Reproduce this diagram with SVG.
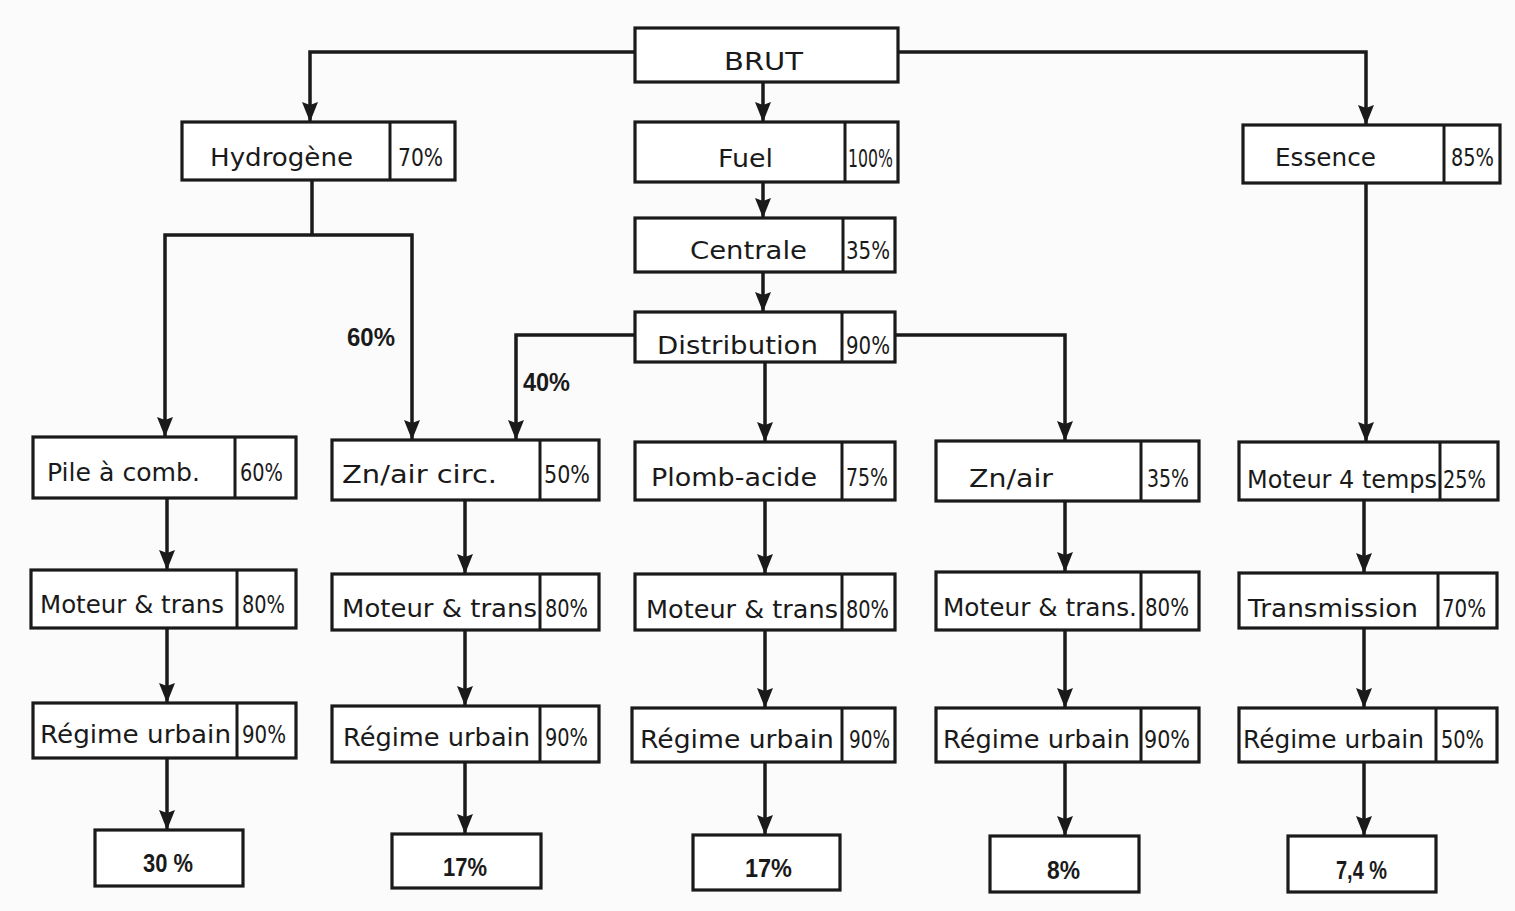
<svg xmlns="http://www.w3.org/2000/svg" width="1515" height="911" viewBox="0 0 1515 911">
<style>
.bx{fill:#fff;stroke:#1a1a1a;stroke-width:3.2}
.dv{stroke:#1a1a1a;stroke-width:3}
.t{font-family:"DejaVu Sans","Liberation Sans",sans-serif;font-size:25px;fill:#1a1a1a}
.p{font-family:"DejaVu Sans","Liberation Sans",sans-serif;font-size:24px;fill:#1a1a1a}
.r{font-family:"Liberation Sans",sans-serif;font-size:25px;font-weight:bold;fill:#1a1a1a}
.c{fill:none;stroke:#1a1a1a;stroke-width:3.5;marker-end:url(#ah)}
.cn{fill:none;stroke:#1a1a1a;stroke-width:3.5}
</style>
<defs>
<marker id="ah" markerUnits="userSpaceOnUse" markerWidth="20" markerHeight="18" viewBox="0 0 20 18" refX="19" refY="9" orient="auto">
<path d="M0,1 L3,9 L0,17 L20,9 Z" fill="#1a1a1a"/>
</marker>
</defs>
<rect width="1515" height="911" fill="#fbfbfb"/>
<g id="connectors">
<path class="c" d="M635,52 H310 V121"/>
<path class="c" d="M763,82 V121"/>
<path class="c" d="M898,52 H1366 V124"/>
<path class="cn" d="M312,180 V235"/>
<path class="c" d="M312,235 H165 V436"/>
<path class="c" d="M312,235 H412 V439"/>
<path class="c" d="M763,182 V217"/>
<path class="c" d="M763,272 V311"/>
<path class="c" d="M635,335 H516 V439"/>
<path class="c" d="M765,362 V441"/>
<path class="c" d="M895,335 H1065 V440"/>
<path class="c" d="M1366,183 V441"/>
<path class="c" d="M167,498 V569"/>
<path class="c" d="M167,628 V702"/>
<path class="c" d="M167,758 V829"/>
<path class="c" d="M465,500 V573"/>
<path class="c" d="M465,630 V705"/>
<path class="c" d="M465,762 V833"/>
<path class="c" d="M765,500 V573"/>
<path class="c" d="M765,630 V707"/>
<path class="c" d="M765,762 V834"/>
<path class="c" d="M1065,501 V571"/>
<path class="c" d="M1065,630 V707"/>
<path class="c" d="M1065,762 V835"/>
<path class="c" d="M1364,500 V572"/>
<path class="c" d="M1364,628 V707"/>
<path class="c" d="M1364,762 V835"/>
<text class="r" x="347" y="346" textLength="48" lengthAdjust="spacingAndGlyphs">60%</text>
<text class="r" x="523" y="391" textLength="47" lengthAdjust="spacingAndGlyphs">40%</text>
</g>
<g id="brut"><rect class="bx" x="635" y="28" width="263" height="54"/><text class="t" x="724" y="70" textLength="79" lengthAdjust="spacingAndGlyphs">BRUT</text></g>
<g id="hydrogene"><rect class="bx" x="182" y="122" width="273" height="58"/><line class="dv" x1="390" y1="122" x2="390" y2="180"/><text class="t" x="210" y="166" textLength="143" lengthAdjust="spacingAndGlyphs">Hydrogène</text><text class="p" x="398" y="166" textLength="45" lengthAdjust="spacingAndGlyphs">70%</text></g>
<g id="fuel"><rect class="bx" x="635" y="122" width="263" height="60"/><line class="dv" x1="845" y1="122" x2="845" y2="182"/><text class="t" x="718" y="167" textLength="55" lengthAdjust="spacingAndGlyphs">Fuel</text><text class="p" x="848" y="167" textLength="45" lengthAdjust="spacingAndGlyphs">100%</text></g>
<g id="essence"><rect class="bx" x="1243" y="125" width="257" height="58"/><line class="dv" x1="1444" y1="125" x2="1444" y2="183"/><text class="t" x="1275" y="166" textLength="101" lengthAdjust="spacingAndGlyphs">Essence</text><text class="p" x="1451" y="166" textLength="43" lengthAdjust="spacingAndGlyphs">85%</text></g>
<g id="centrale"><rect class="bx" x="635" y="218" width="260" height="54"/><line class="dv" x1="843" y1="218" x2="843" y2="272"/><text class="t" x="690" y="259" textLength="117" lengthAdjust="spacingAndGlyphs">Centrale</text><text class="p" x="846" y="259" textLength="44" lengthAdjust="spacingAndGlyphs">35%</text></g>
<g id="distribution"><rect class="bx" x="635" y="312" width="260" height="50"/><line class="dv" x1="842" y1="312" x2="842" y2="362"/><text class="t" x="657" y="354" textLength="161" lengthAdjust="spacingAndGlyphs">Distribution</text><text class="p" x="846" y="354" textLength="44" lengthAdjust="spacingAndGlyphs">90%</text></g>
<g id="pile"><rect class="bx" x="33" y="437" width="263" height="61"/><line class="dv" x1="235" y1="437" x2="235" y2="498"/><text class="t" x="47" y="481" textLength="153" lengthAdjust="spacingAndGlyphs">Pile à comb.</text><text class="p" x="240" y="481" textLength="43" lengthAdjust="spacingAndGlyphs">60%</text></g>
<g id="znaircirc"><rect class="bx" x="332" y="440" width="267" height="60"/><line class="dv" x1="540" y1="440" x2="540" y2="500"/><text class="t" x="342" y="483" textLength="155" lengthAdjust="spacingAndGlyphs">Zn/air  circ.</text><text class="p" x="544" y="483" textLength="46" lengthAdjust="spacingAndGlyphs">50%</text></g>
<g id="plomb"><rect class="bx" x="635" y="442" width="260" height="58"/><line class="dv" x1="842" y1="442" x2="842" y2="500"/><text class="t" x="651" y="486" textLength="166" lengthAdjust="spacingAndGlyphs">Plomb-acide</text><text class="p" x="846" y="486" textLength="42" lengthAdjust="spacingAndGlyphs">75%</text></g>
<g id="znair"><rect class="bx" x="936" y="441" width="263" height="60"/><line class="dv" x1="1141" y1="441" x2="1141" y2="501"/><text class="t" x="969" y="487" textLength="84" lengthAdjust="spacingAndGlyphs">Zn/air</text><text class="p" x="1147" y="487" textLength="42" lengthAdjust="spacingAndGlyphs">35%</text></g>
<g id="moteur4t"><rect class="bx" x="1239" y="442" width="259" height="58"/><line class="dv" x1="1440" y1="442" x2="1440" y2="500"/><text class="t" x="1247" y="488" textLength="190" lengthAdjust="spacingAndGlyphs">Moteur 4 temps</text><text class="p" x="1443" y="488" textLength="43" lengthAdjust="spacingAndGlyphs">25%</text></g>
<g id="mt1"><rect class="bx" x="31" y="570" width="265" height="58"/><line class="dv" x1="237" y1="570" x2="237" y2="628"/><text class="t" x="40" y="613" textLength="184" lengthAdjust="spacingAndGlyphs">Moteur &amp; trans</text><text class="p" x="242" y="613" textLength="43" lengthAdjust="spacingAndGlyphs">80%</text></g>
<g id="mt2"><rect class="bx" x="332" y="574" width="267" height="56"/><line class="dv" x1="540" y1="574" x2="540" y2="630"/><text class="t" x="342" y="617" textLength="195" lengthAdjust="spacingAndGlyphs">Moteur &amp; trans</text><text class="p" x="545" y="617" textLength="43" lengthAdjust="spacingAndGlyphs">80%</text></g>
<g id="mt3"><rect class="bx" x="635" y="574" width="260" height="56"/><line class="dv" x1="842" y1="574" x2="842" y2="630"/><text class="t" x="646" y="618" textLength="192" lengthAdjust="spacingAndGlyphs">Moteur &amp; trans</text><text class="p" x="846" y="618" textLength="43" lengthAdjust="spacingAndGlyphs">80%</text></g>
<g id="mt4"><rect class="bx" x="936" y="572" width="263" height="58"/><line class="dv" x1="1141" y1="572" x2="1141" y2="630"/><text class="t" x="943" y="616" textLength="194" lengthAdjust="spacingAndGlyphs">Moteur &amp; trans.</text><text class="p" x="1145" y="616" textLength="44" lengthAdjust="spacingAndGlyphs">80%</text></g>
<g id="transmission"><rect class="bx" x="1239" y="573" width="258" height="55"/><line class="dv" x1="1438" y1="573" x2="1438" y2="628"/><text class="t" x="1248" y="617" textLength="170" lengthAdjust="spacingAndGlyphs">Transmission</text><text class="p" x="1442" y="617" textLength="44" lengthAdjust="spacingAndGlyphs">70%</text></g>
<g id="ru1"><rect class="bx" x="33" y="703" width="263" height="55"/><line class="dv" x1="237" y1="703" x2="237" y2="758"/><text class="t" x="40" y="743" textLength="191" lengthAdjust="spacingAndGlyphs">Régime  urbain</text><text class="p" x="242" y="743" textLength="44" lengthAdjust="spacingAndGlyphs">90%</text></g>
<g id="ru2"><rect class="bx" x="332" y="706" width="267" height="56"/><line class="dv" x1="540" y1="706" x2="540" y2="762"/><text class="t" x="343" y="746" textLength="187" lengthAdjust="spacingAndGlyphs">Régime urbain</text><text class="p" x="545" y="746" textLength="43" lengthAdjust="spacingAndGlyphs">90%</text></g>
<g id="ru3"><rect class="bx" x="632" y="708" width="263" height="54"/><line class="dv" x1="842" y1="708" x2="842" y2="762"/><text class="t" x="640" y="748" textLength="194" lengthAdjust="spacingAndGlyphs">Régime  urbain</text><text class="p" x="849" y="748" textLength="41" lengthAdjust="spacingAndGlyphs">90%</text></g>
<g id="ru4"><rect class="bx" x="936" y="708" width="263" height="54"/><line class="dv" x1="1141" y1="708" x2="1141" y2="762"/><text class="t" x="943" y="748" textLength="187" lengthAdjust="spacingAndGlyphs">Régime  urbain</text><text class="p" x="1144" y="748" textLength="46" lengthAdjust="spacingAndGlyphs">90%</text></g>
<g id="ru5"><rect class="bx" x="1239" y="708" width="258" height="54"/><line class="dv" x1="1436" y1="708" x2="1436" y2="762"/><text class="t" x="1243" y="748" textLength="181" lengthAdjust="spacingAndGlyphs">Régime urbain</text><text class="p" x="1441" y="748" textLength="43" lengthAdjust="spacingAndGlyphs">50%</text></g>
<g id="res1"><rect class="bx" x="95" y="830" width="148" height="56"/><text class="r" x="143" y="872" textLength="50" lengthAdjust="spacingAndGlyphs">30 %</text></g>
<g id="res2"><rect class="bx" x="392" y="834" width="149" height="54"/><text class="r" x="443" y="876" textLength="44" lengthAdjust="spacingAndGlyphs">17%</text></g>
<g id="res3"><rect class="bx" x="693" y="835" width="147" height="55"/><text class="r" x="745" y="877" textLength="47" lengthAdjust="spacingAndGlyphs">17%</text></g>
<g id="res4"><rect class="bx" x="990" y="836" width="149" height="56"/><text class="r" x="1047" y="879" textLength="33" lengthAdjust="spacingAndGlyphs">8%</text></g>
<g id="res5"><rect class="bx" x="1288" y="836" width="148" height="56"/><text class="r" x="1336" y="879" textLength="51" lengthAdjust="spacingAndGlyphs">7,4 %</text></g>
</svg>
